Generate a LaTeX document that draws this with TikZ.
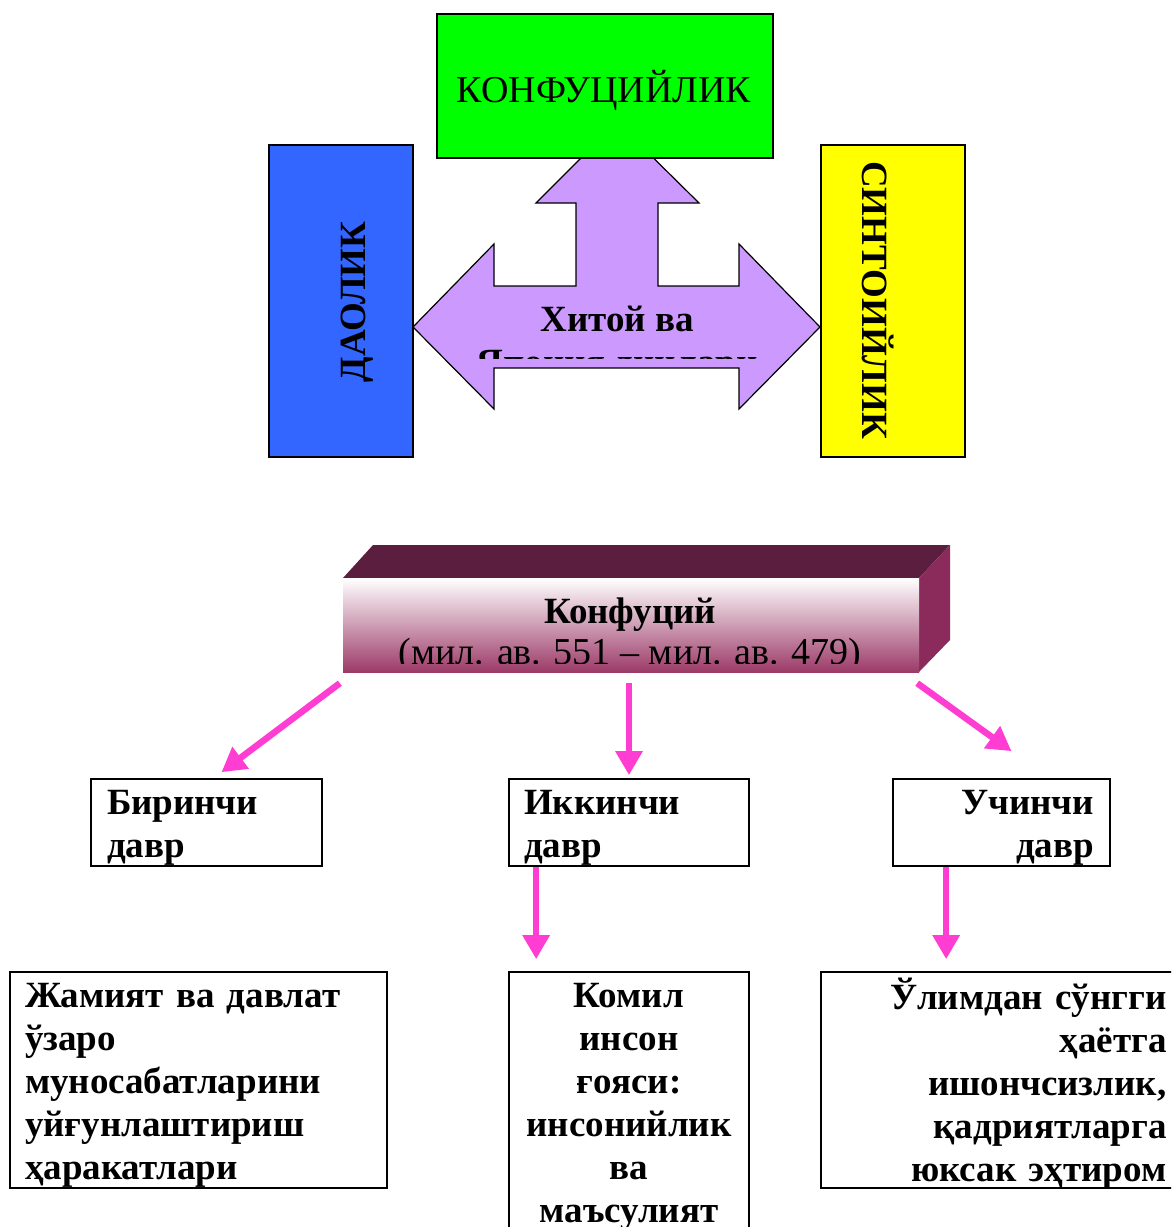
\documentclass[tikz,border=0pt]{standalone}
\usepackage{fontspec}
\setmainfont{Liberation Serif}
\usetikzlibrary{arrows.meta,calc}
\definecolor{lav}{HTML}{CC99FF}
\definecolor{bluec}{HTML}{3366FF}
\definecolor{greenc}{HTML}{00FF00}
\definecolor{yellowc}{HTML}{FFFF00}
\definecolor{pinkc}{HTML}{FF3DD2}
\definecolor{topface}{HTML}{5C1E3E}
\definecolor{sideface}{HTML}{8A2B5C}
\definecolor{frontbot}{HTML}{9C3A68}
\definecolor{frontmid}{HTML}{CDA9B9}
\begin{document}
\begin{tikzpicture}[x=1pt,y=-1pt,
  box/.style={draw=black,line width=1.7pt,inner sep=0pt},
  bigtxt/.style={font=\fontsize{37}{43}\selectfont\bfseries},
  regtxt/.style={font=\fontsize{38}{43}\selectfont},
  pk/.style={draw=pinkc,line width=6.5pt,-{Triangle[length=24pt,width=26pt]}},
]
\useasboundingbox (0,0) rectangle (1171,1227);
\clip (0,0) rectangle (1171,1227);

% purple three-way arrow
\draw[fill=lav,line width=1.2pt,line join=miter]
  (413,327) -- (494,244) -- (494,286) -- (576,286) -- (576,203) -- (536,203)
  -- (617,122) -- (699,203) -- (658,203) -- (658,286) -- (739,286) -- (739,244)
  -- (820,327) -- (739,409) -- (739,368) -- (494,368) -- (494,409) -- cycle;
\begin{scope}
  \clip (420,290) rectangle (815,358);
  \node[bigtxt,align=center,inner sep=0pt,anchor=north] (hj) at (617,306) {Хитой ва\\Япония динлари};
\end{scope}

% top boxes
\node[box,fill=greenc,minimum width=336pt,minimum height=144pt] (conf) at (605,86) {};
\node[regtxt,inner sep=0pt] (conft) at (604,90) {КОНФУЦИЙЛИК};
\node[box,fill=bluec,minimum width=144pt,minimum height=312pt] (dao) at (341,301) {};
\node[bigtxt,rotate=90,inner sep=0pt] (daot) at (357,302) {ДАОЛИК};
\node[box,fill=yellowc,minimum width=144pt,minimum height=312pt] (sin) at (893,301) {};
\node[bigtxt,rotate=-90,inner sep=0pt] (sint) at (878,300) {СИНТОИЙЛИК};

% 3D Konfutsiy bar
\fill[topface] (343,578) -- (373,545) -- (950,545) -- (919,578) -- cycle;
\fill[sideface] (919,578) -- (950,545) -- (950,640) -- (919,672) -- cycle;
\node[inner sep=0pt,minimum width=576pt,minimum height=94pt,
      shade,shading=axis,top color=white,middle color=frontmid,bottom color=frontbot] (konf) at (631,625) {};
\begin{scope}
  \clip (343,578) rectangle (919,663);
  \node[inner sep=0pt,align=center,anchor=north] (konft) at (630,598)
    {{\fontsize{37}{43}\selectfont\bfseries Конфуций}\\[5pt]{\fontsize{38}{43}\selectfont(мил. ав. 551 – мил. ав. 479)}};
\end{scope}

% period boxes
\node[box,minimum width=231pt,minimum height=87pt] (b1) at (206.5,822.5) {};
\node[bigtxt,text width=199pt,align=left,inner sep=0pt] (b1t) at ([yshift=-5pt]b1.center) {Биринчи\\давр};
\node[box,minimum width=240pt,minimum height=87pt] (b2) at (629,822.5) {};
\node[bigtxt,text width=210pt,align=left,inner sep=0pt] (b2t) at ([yshift=-5pt]b2.center) {Иккинчи\\давр};
\node[box,minimum width=217pt,minimum height=87pt] (b3) at (1001.5,822.5) {};
\node[bigtxt,text width=185pt,align=right,inner sep=0pt] (b3t) at ([yshift=-5pt]b3.center) {Учинчи\\давр};

% bottom boxes
\node[box,minimum width=377pt,minimum height=216pt] (b4) at (198.5,1080) {};
\node[bigtxt,text width=347pt,align=left,inner sep=0pt] (b4t) at ([yshift=-5pt]b4.center)
  {Жамият ва давлат\\ўзаро\\муносабатларини\\уйғунлаштириш\\ҳаракатлари};
\node[box,minimum width=240pt,minimum height=270pt,text width=220pt,align=center,bigtxt] (b5) at (629,1107)
  {Комил\\инсон\\ғояси:\\инсонийлик\\ва\\маъсулият};
\node[box,minimum width=360pt,minimum height=216pt] (b6) at (1001,1080) {};
\node[bigtxt,text width=331pt,align=right,inner sep=0pt] (b6t) at ([yshift=-4pt]b6.center)
  {Ўлимдан сўнгги\\ҳаётга\\ишончсизлик,\\қадриятларга\\юксак эҳтиром};

% pink arrows
\coordinate (e3) at ([xshift=10pt,yshift=27pt]b3.north);
\draw[pk] ([xshift=-3pt,yshift=-11pt]konf.south west) -- ([xshift=15pt,yshift=6pt]b1.north);
\draw[pk] ([xshift=-2pt,yshift=-11pt]konf.south) -- ([yshift=3pt]b2.north);
\draw[pk] ([xshift=-2pt,yshift=-11pt]konf.south east) -- (e3);
\draw[pk] ([xshift=28pt]b2.south west) -- ([xshift=28pt,yshift=12pt]b5.north west);
\draw[pk] ([xshift=126pt]b6.north west |- b3.south) -- ([xshift=126pt,yshift=12pt]b6.north west);
\end{tikzpicture}
\end{document}
